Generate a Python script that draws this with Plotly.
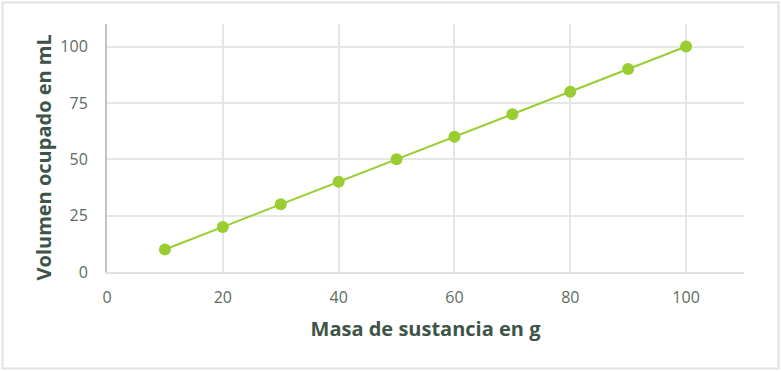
import plotly.graph_objects as go

masa = [10, 20, 30, 40, 50, 60, 70, 80, 90, 100]
volumen = [10, 20, 30, 40, 50, 60, 70, 80, 90, 100]
x_ticks = [0, 20, 40, 60, 80, 100]
y_ticks = [0, 25, 50, 75, 100]

green = "#9acd32"
fig = go.Figure(go.Scatter(
    x=masa, y=volumen, mode="lines+markers",
    line=dict(color=green, width=2),
    marker=dict(color=green, size=12),
))

W, H = 781, 371
L, R, T, B = 107, 37, 24, 99
pw, ph = W - L - R, H - T - B

fig.update_layout(
    width=W, height=H,
    margin=dict(l=L, r=R, t=T, b=B),
    paper_bgcolor="white", plot_bgcolor="white",
    showlegend=False,
    font=dict(family="Open Sans", color="#5b6b62", size=16),
    xaxis=dict(
        range=[0, 110], tickvals=x_ticks, showgrid=True, gridcolor="#e3e8e5", gridwidth=2,
        showline=True, linecolor="#dde3e0", linewidth=2, zeroline=False,
        ticklabelstandoff=10,
        title=dict(text="Masa de sustancia en g", font=dict(size=20, color="#3e5447", family="Open Sans", weight="bold"), standoff=15),
    ),
    yaxis=dict(
        range=[0, 110], tickvals=y_ticks, showgrid=True, gridcolor="#e3e8e5", gridwidth=2,
        showline=True, linecolor="#b9c7bf", linewidth=2, zeroline=False,
        ticklabelstandoff=14,
    ),
    annotations=[dict(text="<b>Volumen ocupado en mL</b>", textangle=-90, showarrow=False,
                      xref="paper", yref="paper",
                      x=(43 - L) / pw, y=(H - B - 157.5) / ph,
                      xanchor="center", yanchor="middle",
                      font=dict(size=20, color="#3e5447", family="Open Sans"))],
    shapes=[dict(type="rect", xref="paper", yref="paper",
                 x0=(2.5 - L) / pw, x1=(778.5 - L) / pw,
                 y0=(H - B - 368.5) / ph, y1=(H - B - 2.5) / ph,
                 line=dict(color="#dfe4e1", width=2), layer="below")],
)
fig.write_html("out.html", config={"displayModeBar": False},
               post_script="document.body.style.margin='0';")
